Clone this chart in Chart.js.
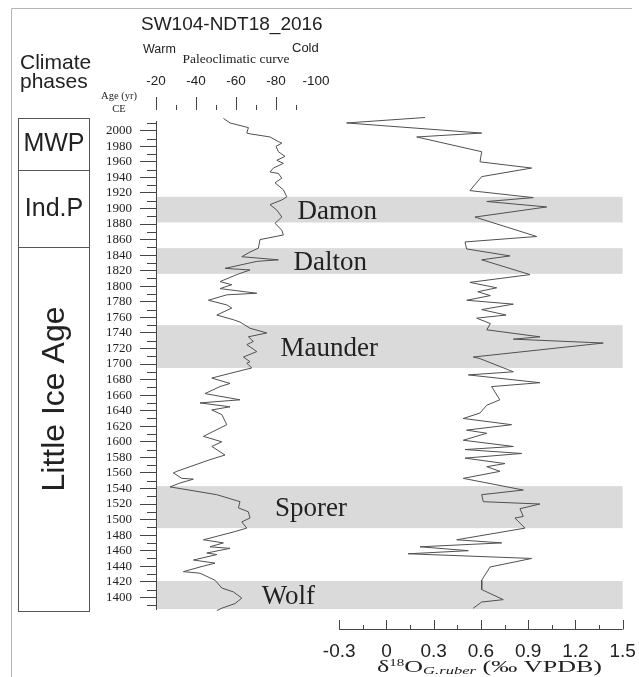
<!DOCTYPE html>
<html>
<head>
<meta charset="utf-8">
<script src="https://cdn.jsdelivr.net/npm/chart.js@4.4.1/dist/chart.umd.min.js"></script>
<style>
html,body{margin:0;padding:0;background:#fff;}
#wrap{width:639px;height:677px;position:relative;}
canvas{display:block;}
</style>
</head>
<body>
<div id="wrap"><canvas id="c" width="639" height="677"></canvas></div>
<script>
// ---------- data ----------
const ageTicks = [1400,1420,1440,1460,1480,1500,1520,1540,1560,1580,1600,1620,1640,1660,1680,1700,1720,1740,1760,1780,1800,1820,1840,1860,1880,1900,1920,1940,1960,1980,2000];
const paleoTicks = [-20,-40,-60,-80,-100];
const d18OTicks = [-0.3,0,0.3,0.6,0.9,1.2,1.5];

const paleoYears = [2016,2010,2004,1997,1996,1992,1986,1984,1980,1973,
  1967,1962,1958,1952,1947,1945,1939,1933,1924,1915,
  1911,1905,1898,1889,1881,1872,1866,1860,1849,1844,
  1838,1834,1832,1823,1821,1815,1806,1802,1797,1791,
  1789,1782,1776,1772,1763,1757,1754,1746,1740,1735,
  1729,1725,1716,1709,1703,1701,1695,1688,1682,1675,
  1671,1662,1654,1650,1645,1641,1635,1622,1607,1600,
  1594,1583,1577,1568,1562,1560,1553,1552,1547,1542,
  1532,1523,1515,1510,1502,1497,1489,1484,1474,1470,
  1465,1463,1457,1455,1448,1444,1439,1433,1431,1422,
  1412,1407,1399,1392,1386,1383];
const paleoValues = [-53.7,-57,-66.2,-65.4,-67,-77,-81.2,-82.9,-80,-81.2,
  -84.5,-80.4,-83.7,-78.7,-77,-81.2,-82.9,-79.5,-83.7,-85.4,
  -82.9,-77,-80.4,-82.9,-79.5,-82.9,-83.7,-72,-71.2,-67,
  -62.9,-81.2,-70.4,-54.5,-67,-60.4,-52,-57.9,-52,-70.4,
  -55.4,-46.2,-55.4,-57.9,-50.4,-58.7,-62,-67,-75.4,-66.2,
  -68.7,-65.4,-70.4,-63.7,-67,-65.4,-67.9,-57,-47.9,-57,
  -52,-44.5,-62,-42,-57,-47.9,-52.9,-55.4,-43.7,-52.9,
  -47.9,-54.5,-47,-37,-30.4,-28.7,-32.9,-38.7,-32,-27,
  -50.4,-62,-61.2,-66.2,-67,-62.9,-65.4,-58.7,-43.7,-53.7,
  -47,-57,-45.4,-50.4,-38.7,-49.5,-42,-33.7,-42,-49.5,
  -52.9,-58.7,-62.9,-59.5,-52.9,-50.4];

const d18OYears = [2017,2010,1997,1992,1973,1960,1952,1941,1923,1914,
  1909,1902,1889,1864,1857,1848,1839,1834,1815,1805,
  1798,1793,1788,1782,1777,1770,1763,1759,1752,1744,
  1735,1732,1727,1709,1707,1690,1686,1676,1671,1654,
  1647,1637,1630,1622,1615,1611,1602,1594,1590,1585,
  1579,1572,1568,1562,1553,1538,1532,1523,1520,1514,
  1504,1502,1489,1474,1470,1465,1460,1456,1450,1439,
  1422,1410,1397,1394,1386];
const d18OValues = [0.245,-0.253,0.605,0.192,0.605,0.594,0.922,0.605,0.53,0.933,
  0.637,1.018,0.562,0.954,0.499,0.509,0.785,0.605,0.912,0.53,
  0.70,0.58,0.66,0.51,0.806,0.605,0.76,0.573,0.66,0.637,
  0.975,0.806,1.377,0.551,0.594,0.806,0.52,0.975,0.668,0.72,
  0.637,0.594,0.488,0.795,0.509,0.637,0.488,0.806,0.499,0.859,
  0.499,0.753,0.637,0.721,0.488,0.869,0.605,0.615,0.975,0.848,
  0.869,0.816,0.88,0.446,0.732,0.213,0.52,0.138,0.922,0.658,
  0.605,0.605,0.742,0.605,0.551];

const bandNames = ['Damon','Dalton','Maunder','Sporer','Wolf'];
const bandStart = [1882,1816,1695,1489,1385];
const bandEnd   = [1915,1849,1750,1543,1421];

const phaseNames = ['MWP','Ind.P','Little Ice Age'];
const phaseStart = [1950,1850,1382];
const phaseEnd   = [2017,1950,1850];

// ---------- styles ----------
const SERIF = '"Liberation Serif","Times New Roman",serif';
const SANS = '"Liberation Sans",Arial,sans-serif';
const INK = '#222';
const AXIS = '#444';

const decor = {
  id: 'decor',
  beforeDatasetsDraw(chart) {
    const {ctx, chartArea: a, scales: {y}} = chart;
    ctx.save();
    ctx.fillStyle = '#dadada';
    bandNames.forEach((n, i) => {
      const y1 = y.getPixelForValue(bandEnd[i]);
      const y2 = y.getPixelForValue(bandStart[i]);
      ctx.fillRect(a.left + 1, y1, a.right - a.left - 1, y2 - y1);
    });
    ctx.restore();
  },
  afterDatasetsDraw(chart) {
    const {ctx, scales: {y}} = chart;
    const rightEdge = [377, 367, 378, 347, 315];
    ctx.save();
    ctx.fillStyle = INK;
    ctx.font = '27px ' + SERIF;
    ctx.textAlign = 'right';
    ctx.textBaseline = 'alphabetic';
    bandNames.forEach((n, i) => {
      const mid = y.getPixelForValue((bandStart[i] + bandEnd[i]) / 2);
      ctx.fillText(n, rightEdge[i], mid + 9);
    });
    ctx.restore();
  },
  afterDraw(chart) {
    const {ctx, scales: {y, x, xp}} = chart;
    ctx.save();
    // frame lines
    ctx.strokeStyle = '#b5b5b5'; ctx.lineWidth = 1;
    ctx.beginPath(); ctx.moveTo(11.5, 677); ctx.lineTo(11.5, 8.5); ctx.lineTo(632, 8.5); ctx.stroke();

    // title
    ctx.fillStyle = INK;
    ctx.textBaseline = 'alphabetic';
    ctx.textAlign = 'left';
    ctx.font = '19px ' + SANS;
    ctx.fillText('SW104-NDT18_2016', 141, 30);
    ctx.font = '21px ' + SANS;
    ctx.fillText('Climate', 20, 68.5);
    ctx.fillText('phases', 20, 87.5);
    ctx.font = '12.5px ' + SANS;
    ctx.fillText('Warm', 143, 53);
    ctx.font = '13px ' + SANS;
    ctx.fillText('Cold', 292, 52);
    ctx.font = '13.5px ' + SERIF;
    ctx.textAlign = 'center';
    ctx.fillText('Paleoclimatic curve', 236, 63);
    ctx.font = '10.5px ' + SERIF;
    ctx.fillText('Age (yr)', 119, 99);
    ctx.fillText('CE', 119, 112);

    // left phase boxes
    ctx.strokeStyle = '#555';
    phaseNames.forEach((n, i) => {
      const t = Math.round(y.getPixelForValue(phaseEnd[i])) + 0.5;
      const b = Math.round(y.getPixelForValue(phaseStart[i])) + 0.5;
      ctx.strokeRect(18.5, t, 71, b - t);
    });
    ctx.fillStyle = INK;
    ctx.font = '25px ' + SANS;
    ctx.textAlign = 'center'; ctx.textBaseline = 'middle';
    ctx.fillText(phaseNames[0], 54, y.getPixelForValue((phaseStart[0] + phaseEnd[0]) / 2) + 1);
    ctx.fillText(phaseNames[1], 54, y.getPixelForValue((phaseStart[1] + phaseEnd[1]) / 2) + 1);
    ctx.save();
    ctx.translate(64, 399);
    ctx.rotate(-Math.PI / 2);
    ctx.font = '32px ' + SANS;
    ctx.textBaseline = 'alphabetic';
    ctx.fillText(phaseNames[2], 0, 0);
    ctx.restore();

    // y minor ticks
    ctx.strokeStyle = AXIS; ctx.lineWidth = 1;
    ctx.beginPath();
    for (let v = 1390; v <= 2010; v += 10) {
      if (v % 20 === 0) continue;
      const py = Math.round(y.getPixelForValue(v)) + 0.5;
      ctx.moveTo(147, py); ctx.lineTo(156, py);
    }
    ctx.stroke();

    // top (paleo) tick marks, detached from plot
    ctx.beginPath();
    for (let v = -20; v >= -90; v -= 10) {
      const px = Math.round(xp.getPixelForValue(v)) + 0.5;
      const major = v % 20 === 0;
      ctx.moveTo(px, major ? 97 : 105); ctx.lineTo(px, 110);
    }
    ctx.stroke();

    // bottom δ18O axis line and ticks
    const x0 = x.getPixelForValue(-0.3), x1 = x.getPixelForValue(1.5);
    ctx.beginPath();
    ctx.moveTo(x0, 629.5); ctx.lineTo(x1, 629.5);
    for (let k = 0; k <= 12; k++) {
      const v = -0.3 + k * 0.15;
      const px = Math.round(x.getPixelForValue(v)) + 0.5;
      ctx.moveTo(px, k % 2 === 0 ? 620 : 625); ctx.lineTo(px, 629.5);
    }
    ctx.stroke();

    // bottom axis title with super/subscripts
    const parts = [
      ['\u03b4', '16.5px ' + SERIF, 0],
      ['18', '9.5px ' + SERIF, -6],
      ['O', '16.5px ' + SERIF, 0],
      ['G.ruber', 'italic 10.5px ' + SERIF, 2.5],
      [' (\u2030 VPDB)', '16.5px ' + SERIF, 0]
    ];
    let w = 0;
    parts.forEach(p => { ctx.font = p[1]; p.w = ctx.measureText(p[0]).width; w += p.w; });
    const sx = 225 / w;
    ctx.save();
    ctx.translate(377, 671.5);
    ctx.scale(sx, 1);
    ctx.textAlign = 'left'; ctx.textBaseline = 'alphabetic';
    let cx = 0;
    parts.forEach(p => { ctx.font = p[1]; ctx.fillText(p[0], cx, p[2]); cx += p.w; });
    ctx.restore();

    ctx.restore();
  }
};

const lineStyle = {borderColor: '#505050', borderWidth: 1, pointRadius: 0, tension: 0, fill: false, clip: false};
const hiddenTicks = {display: true, drawOnChartArea: false, drawTicks: true, color: 'rgba(0,0,0,0)', tickColor: 'rgba(0,0,0,0)'};

new Chart(document.getElementById('c'), {
  type: 'line',
  data: {
    datasets: [
      Object.assign({
        label: 'Paleoclimatic curve',
        data: paleoYears.map((yr, i) => ({x: paleoValues[i], y: yr})),
        xAxisID: 'xp', yAxisID: 'y'
      }, lineStyle),
      Object.assign({
        label: 'δ18O G.ruber',
        data: d18OYears.map((yr, i) => ({x: d18OValues[i], y: yr})),
        xAxisID: 'x', yAxisID: 'y'
      }, lineStyle)
    ]
  },
  options: {
    responsive: false,
    animation: false,
    devicePixelRatio: 1,
    layout: {padding: {left: 0, right: 16.4, top: 0, bottom: 0}},
    plugins: {legend: {display: false}, tooltip: {enabled: false}, title: {display: false}},
    scales: {
      y: {
        type: 'linear', position: 'left', min: 1385, max: 2012,
        afterBuildTicks: s => { s.ticks = ageTicks.map(v => ({value: v})); },
        afterFit: s => { s.width = 156; },
        ticks: {padding: 8, autoSkip: false, color: INK, font: {family: SERIF, size: 13, lineHeight: 1}, callback: v => String(v)},
        grid: {drawOnChartArea: false, tickLength: 16, color: AXIS, tickColor: AXIS, tickWidth: 1},
        border: {display: true, color: AXIS, width: 1}
      },
      xp: {
        type: 'linear', position: 'top', reverse: true, min: -253.3, max: -20,
        afterBuildTicks: s => { s.ticks = paleoTicks.map(v => ({value: v})); },
        afterFit: s => { s.height = 121.4; },
        ticks: {padding: 0, autoSkip: false, maxRotation: 0, color: INK, font: {family: SANS, size: 13.5}, callback: v => String(v)},
        grid: Object.assign({tickLength: 31.6}, hiddenTicks),
        border: {display: false}
      },
      x: {
        type: 'linear', position: 'bottom', min: -1.464, max: 1.5,
        afterBuildTicks: s => { s.ticks = d18OTicks.map(v => ({value: v})); },
        afterFit: s => { s.height = 68; },
        ticks: {padding: 0, autoSkip: false, maxRotation: 0, color: INK, font: {family: SANS, size: 19},
          callback: v => (v === 0 ? '0' : v.toFixed(1))},
        grid: Object.assign({tickLength: 31.3}, hiddenTicks),
        border: {display: false}
      }
    }
  },
  plugins: [decor]
});
</script>
</body>
</html>
